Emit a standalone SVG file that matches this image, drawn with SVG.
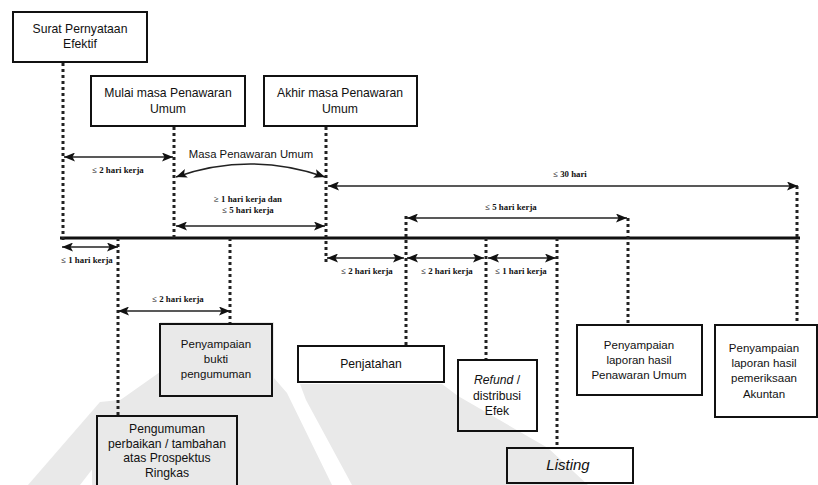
<svg xmlns="http://www.w3.org/2000/svg" width="818" height="485" viewBox="0 0 818 485">
<style>
.box{fill:none;stroke:#111;stroke-width:2}
.bt{font-family:"Liberation Sans",Arial,sans-serif;font-size:12.2px;fill:#111;text-anchor:middle}
.bs{font-family:"Liberation Sans",Arial,sans-serif;font-size:11.5px;fill:#111;text-anchor:middle}
.lb{font-family:"Liberation Serif","Times New Roman",serif;font-size:8.8px;font-weight:bold;fill:#111;text-anchor:middle}
.dot{stroke:#222;stroke-width:3;stroke-dasharray:3 3;fill:none}
.arr{stroke:#222;stroke-width:1.5;fill:none;marker-start:url(#ah);marker-end:url(#ah)}
.wm{fill:#e9e9e9}
</style>
<defs>
<marker id="ah" markerUnits="userSpaceOnUse" markerWidth="11" markerHeight="9" refX="11" refY="4.5" orient="auto-start-reverse">
<path d="M0,0 L11,4.5 L0,9 L2.5,4.5 z" fill="#111"/>
</marker>
</defs>
<rect width="818" height="485" fill="#fff"/>
<g id="watermark">
<polygon class="wm" points="100,402 148,397 80,485 28,485"/>
<polygon class="wm" points="92,420 160,372 160,322 274,322 274,378 287,393 332,485 92,485"/>
<polygon class="wm" points="300,384 442,384 458,396 548,448 588,485 352,485 306,400"/>
</g>
<g id="connectors">
<line x1="60" y1="238" x2="800" y2="238" stroke="#111" stroke-width="3"/>
<line class="dot" x1="63" y1="63" x2="63" y2="240"/>
<line class="dot" x1="174" y1="127" x2="174" y2="240"/>
<line class="dot" x1="326" y1="127" x2="326" y2="262"/>
<line class="dot" x1="118" y1="238" x2="118" y2="416"/>
<line class="dot" x1="230" y1="238" x2="230" y2="324"/>
<line class="dot" x1="406" y1="216" x2="406" y2="346"/>
<line class="dot" x1="486" y1="238" x2="486" y2="360"/>
<line class="dot" x1="557" y1="238" x2="557" y2="448"/>
<line class="dot" x1="628" y1="218" x2="628" y2="325"/>
<line class="dot" x1="797" y1="186" x2="797" y2="325"/>
<line class="arr" x1="64" y1="157" x2="173" y2="157"/>
<path class="arr" d="M176,177 Q250,151 325,177"/>
<line class="arr" x1="176" y1="226" x2="325" y2="226"/>
<line class="arr" x1="328" y1="186" x2="798" y2="186"/>
<line class="arr" x1="407" y1="218" x2="627" y2="218"/>
<line class="arr" x1="62" y1="247" x2="118" y2="247"/>
<line class="arr" x1="118" y1="311" x2="230" y2="311"/>
<line class="arr" x1="327" y1="258" x2="404" y2="258"/>
<line class="arr" x1="407" y1="258" x2="484" y2="258"/>
<line class="arr" x1="488" y1="258" x2="556" y2="258"/>
<text class="lb" x="118" y="173">≤ 2 hari kerja</text>
<text style="font-family:'Liberation Sans',Arial,sans-serif;font-size:11.3px;fill:#111;text-anchor:middle" x="251" y="158">Masa Penawaran Umum</text>
<text class="lb" x="248" y="202">≥ 1 hari kerja dan</text>
<text class="lb" x="248" y="213">≤ 5 hari kerja</text>
<text class="lb" x="570" y="177">≤ 30 hari</text>
<text class="lb" x="511" y="210">≤ 5 hari kerja</text>
<text class="lb" x="87" y="263">≤ 1 hari kerja</text>
<text class="lb" x="178" y="302">≤ 2 hari kerja</text>
<text class="lb" x="367" y="274">≤ 2 hari kerja</text>
<text class="lb" x="447" y="274">≤ 2 hari kerja</text>
<text class="lb" x="521" y="274">≤ 1 hari kerja</text>
</g>
<g id="surat">
<rect class="box" x="13" y="12" width="134" height="50"/>
<text class="bt" x="80" y="33">Surat Pernyataan</text>
<text class="bt" x="80" y="48">Efektif</text>
</g>
<g id="mulai">
<rect class="box" x="91" y="76" width="154" height="50"/>
<text class="bt" x="168" y="97">Mulai masa Penawaran</text>
<text class="bt" x="168" y="113">Umum</text>
</g>
<g id="akhir">
<rect class="box" x="264" y="76" width="153" height="50"/>
<text class="bt" x="340" y="97">Akhir masa Penawaran</text>
<text class="bt" x="340" y="113">Umum</text>
</g>
<g id="bukti">
<rect class="box" x="160" y="324" width="112" height="72"/>
<text class="bs" x="216" y="348">Penyampaian</text>
<text class="bs" x="216" y="363">bukti</text>
<text class="bs" x="216" y="378">pengumuman</text>
</g>
<g id="pengumuman">
<rect class="box" x="97" y="416" width="140" height="80"/>
<text class="bt" x="167" y="433">Pengumuman</text>
<text class="bt" x="167" y="448">perbaikan / tambahan</text>
<text class="bt" x="167" y="462">atas Prospektus</text>
<text class="bt" x="167" y="477">Ringkas</text>
</g>
<g id="penjatahan">
<rect class="box" x="298" y="346" width="146" height="36"/>
<text class="bt" x="371" y="368">Penjatahan</text>
</g>
<g id="refund">
<rect class="box" x="458" y="360" width="79" height="71"/>
<text class="bt" x="497" y="384"><tspan font-style="italic">Refund</tspan> /</text>
<text class="bt" x="497" y="400">distribusi</text>
<text class="bt" x="497" y="415">Efek</text>
</g>
<g id="listing">
<rect class="box" x="507" y="448" width="126" height="35"/>
<text class="bt" x="568" y="470" style="font-size:15px;font-style:italic">Listing</text>
</g>
<g id="laporan-pu">
<rect class="box" x="577" y="325" width="125" height="70"/>
<text class="bs" x="639" y="349">Penyampaian</text>
<text class="bs" x="639" y="364">laporan hasil</text>
<text class="bs" x="639" y="379">Penawaran Umum</text>
</g>
<g id="laporan-akuntan">
<rect class="box" x="715" y="325" width="102" height="92"/>
<text class="bs" x="764" y="352">Penyampaian</text>
<text class="bs" x="764" y="367">laporan hasil</text>
<text class="bs" x="764" y="382">pemeriksaan</text>
<text class="bs" x="764" y="398">Akuntan</text>
</g>
</svg>
